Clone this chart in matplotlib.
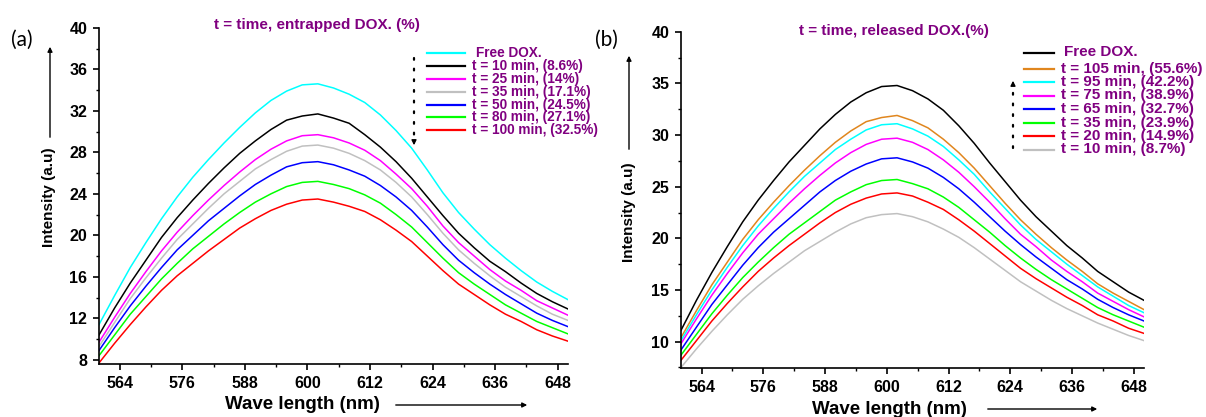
import numpy as np
import matplotlib
matplotlib.use("Agg")
import matplotlib.pyplot as plt
from matplotlib.lines import Line2D
from matplotlib.patches import FancyArrowPatch
from matplotlib.ticker import MultipleLocator

plt.rcParams['font.family'] = ['Liberation Sans', 'DejaVu Sans']
plt.rcParams['font.weight'] = 'bold'

# ---------------- data ----------------
wavelength = np.arange(560, 651, 3)  # nm sampling

# panel (a): entrapped DOX
a_free = [11.4, 14.2, 16.9, 19.3, 21.6, 23.7, 25.6, 27.3, 28.9, 30.4, 31.8, 33.0, 33.9, 34.5, 34.6,
          34.2, 33.6, 32.8, 31.6, 30.1, 28.4, 26.3, 24.1, 22.2, 20.6, 19.1, 17.8, 16.6, 15.5, 14.6, 13.8]
a_t10 = [10.4, 13.0, 15.4, 17.6, 19.8, 21.7, 23.4, 25.0, 26.5, 27.9, 29.1, 30.2, 31.1, 31.5, 31.7,
         31.3, 30.8, 29.7, 28.5, 27.1, 25.5, 23.7, 21.9, 20.2, 18.8, 17.5, 16.5, 15.4, 14.4, 13.6, 12.9]
a_t25 = [9.7, 12.1, 14.4, 16.5, 18.5, 20.3, 21.9, 23.4, 24.8, 26.1, 27.3, 28.3, 29.1, 29.6, 29.7,
         29.4, 28.9, 28.2, 27.2, 25.9, 24.5, 22.8, 20.9, 19.3, 18.0, 16.7, 15.6, 14.7, 13.7, 13.0, 12.3]
a_t35 = [9.3, 11.6, 13.9, 15.9, 17.8, 19.6, 21.1, 22.6, 24.0, 25.2, 26.4, 27.3, 28.1, 28.6, 28.7,
         28.4, 27.9, 27.2, 26.3, 25.1, 23.7, 22.0, 20.2, 18.6, 17.3, 16.1, 15.0, 14.1, 13.2, 12.4, 11.8]
a_t50 = [8.9, 11.1, 13.2, 15.1, 16.9, 18.6, 20.0, 21.4, 22.6, 23.8, 24.9, 25.8, 26.6, 27.0, 27.1,
         26.8, 26.3, 25.7, 24.8, 23.7, 22.4, 20.8, 19.1, 17.6, 16.4, 15.3, 14.3, 13.4, 12.5, 11.8, 11.2]
a_t80 = [8.4, 10.4, 12.4, 14.1, 15.8, 17.3, 18.7, 19.9, 21.1, 22.2, 23.2, 24.0, 24.7, 25.1, 25.2,
         24.9, 24.5, 23.9, 23.1, 22.0, 20.8, 19.3, 17.8, 16.4, 15.3, 14.3, 13.3, 12.5, 11.7, 11.1, 10.5]
a_t100 = [7.7, 9.6, 11.4, 13.1, 14.7, 16.1, 17.3, 18.5, 19.6, 20.7, 21.6, 22.4, 23.0, 23.4, 23.5,
          23.2, 22.8, 22.3, 21.5, 20.5, 19.4, 18.0, 16.6, 15.3, 14.3, 13.3, 12.4, 11.7, 10.9, 10.3, 9.8]

a_series = [a_free, a_t10, a_t25, a_t35, a_t50, a_t80, a_t100]
a_labels = ["Free DOX.", "t = 10 min, (8.6%)", "t = 25 min, (14%)", "t = 35 min, (17.1%)",
            "t = 50 min, (24.5%)", "t = 80 min, (27.1%)", "t = 100 min, (32.5%)"]
a_colors = ["#00FFFF", "#000000", "#FF00FF", "#C0C0C0", "#0000FF", "#00FF00", "#FF0000"]

# panel (b): released DOX
b_free = [11.1, 14.0, 16.7, 19.2, 21.6, 23.7, 25.6, 27.4, 29.0, 30.6, 32.0, 33.2, 34.1, 34.7, 34.8,
          34.3, 33.5, 32.4, 30.9, 29.2, 27.3, 25.5, 23.7, 22.1, 20.7, 19.3, 18.1, 16.8, 15.8, 14.8, 14.0]
b_t105 = [10.4, 13.0, 15.5, 17.7, 19.9, 21.8, 23.5, 25.1, 26.6, 28.0, 29.3, 30.4, 31.3, 31.7, 31.9,
          31.4, 30.7, 29.6, 28.3, 26.8, 25.1, 23.4, 21.8, 20.4, 19.1, 17.9, 16.8, 15.6, 14.7, 13.9, 13.1]
b_t95 = [10.1, 12.6, 15.0, 17.2, 19.3, 21.2, 22.9, 24.5, 26.0, 27.3, 28.6, 29.6, 30.5, 31.0, 31.1,
         30.6, 29.9, 28.9, 27.6, 26.2, 24.5, 22.9, 21.3, 19.9, 18.7, 17.5, 16.4, 15.3, 14.4, 13.5, 12.8]
b_t75 = [9.8, 12.2, 14.5, 16.6, 18.6, 20.4, 21.9, 23.4, 24.8, 26.1, 27.3, 28.3, 29.1, 29.6, 29.7,
         29.3, 28.6, 27.6, 26.4, 25.0, 23.5, 21.9, 20.4, 19.2, 17.9, 16.8, 15.8, 14.7, 13.9, 13.1, 12.4]
b_t65 = [9.2, 11.4, 13.6, 15.5, 17.4, 19.1, 20.6, 21.9, 23.2, 24.5, 25.6, 26.5, 27.2, 27.7, 27.8,
         27.4, 26.8, 25.9, 24.8, 23.5, 22.1, 20.7, 19.4, 18.2, 17.1, 16.0, 15.1, 14.1, 13.3, 12.6, 12.0]
b_t35 = [8.7, 10.7, 12.7, 14.5, 16.2, 17.7, 19.1, 20.4, 21.5, 22.6, 23.7, 24.5, 25.2, 25.6, 25.7,
         25.3, 24.8, 24.0, 23.0, 21.8, 20.6, 19.3, 18.1, 17.0, 16.0, 15.1, 14.2, 13.3, 12.6, 12.0, 11.4]
b_t20 = [8.2, 10.1, 12.0, 13.7, 15.3, 16.8, 18.1, 19.3, 20.4, 21.5, 22.5, 23.3, 23.9, 24.3, 24.4,
         24.1, 23.5, 22.8, 21.8, 20.7, 19.5, 18.3, 17.1, 16.1, 15.2, 14.3, 13.5, 12.6, 12.0, 11.3, 10.8]
b_t10 = [7.5, 9.3, 11.0, 12.6, 14.1, 15.4, 16.6, 17.7, 18.8, 19.7, 20.6, 21.4, 22.0, 22.3, 22.4,
         22.1, 21.6, 20.9, 20.1, 19.1, 18.0, 16.9, 15.8, 14.9, 14.0, 13.2, 12.5, 11.8, 11.2, 10.6, 10.1]

b_series = [b_free, b_t105, b_t95, b_t75, b_t65, b_t35, b_t20, b_t10]
b_labels = ["Free DOX.", "t = 105 min, (55.6%)", "t = 95 min, (42.2%)", "t = 75 min, (38.9%)",
            "t = 65 min, (32.7%)", "t = 35 min, (23.9%)", "t = 20 min, (14.9%)", "t = 10 min, (8.7%)"]
b_colors = ["#000000", "#E0861E", "#00FFFF", "#FF00FF", "#0000FF", "#00FF00", "#FF0000", "#C0C0C0"]

x_ticks = [564, 576, 588, 600, 612, 624, 636, 648]

# ---------------- figure ----------------
W, H = 1206, 417
fig = plt.figure(figsize=(W / 100, H / 100), dpi=100)
PURPLE = "#800080"


def fx(x):
    return x / W


def fy(y):
    return 1 - y / H


def style_axes(ax, ymajor, yminor):
    for s in ["top", "right"]:
        ax.spines[s].set_visible(False)
    for s in ["left", "bottom"]:
        ax.spines[s].set_linewidth(1.2)
    ax.set_xlim(560, 650)
    ax.set_xticks(x_ticks)
    ax.xaxis.set_minor_locator(MultipleLocator(6))
    ax.yaxis.set_major_locator(MultipleLocator(ymajor))
    ax.yaxis.set_minor_locator(MultipleLocator(yminor))
    ax.tick_params(which="major", direction="out", length=4.5, width=1.2, labelsize=11.5, pad=4)
    ax.tick_params(which="minor", direction="out", length=2.5, width=1.0)
    for lab in ax.get_xticklabels() + ax.get_yticklabels():
        lab.set_fontweight("bold")


axA = fig.add_axes([fx(99), fy(364), (568 - 99) / W, (364 - 27.8) / H])
axB = fig.add_axes([fx(681), fy(368.3), (1144 - 681) / W, (368.3 - 31.8) / H])

for vals, c in zip(a_series, a_colors):
    axA.plot(wavelength, vals, color=c, lw=1.1)
for vals, c in zip(b_series, b_colors):
    axB.plot(wavelength, vals, color=c, lw=1.1)

axA.set_ylim(7.6, 40)
axB.set_ylim(7.42, 40)
style_axes(axA, 4, 2)
style_axes(axB, 5, 2.5)

# axis labels
for ax, xl, yl in [(axA, (0.433, -0.12), (-0.107, 0.497)), (axB, (0.451, -0.122), (-0.112, 0.464))]:
    ax.set_xlabel("Wave length (nm)", fontsize=13.5, fontweight="bold")
    ax.xaxis.set_label_coords(*xl)
    ax.xaxis.label.set_va("center")
    ax.set_ylabel("Intensity (a.u)", fontsize=11, fontweight="bold")
    ax.yaxis.set_label_coords(*yl)
    ax.yaxis.label.set_va("center")

arrow_kw = dict(arrowstyle="-|>", color="black", lw=1.0, mutation_scale=7)


def fig_arrow(x0, y0, x1, y1):
    fig.add_artist(FancyArrowPatch((fx(x0), fy(y0)), (fx(x1), fy(y1)),
                                   transform=fig.transFigure, **arrow_kw))


fig_arrow(50, 140, 50, 44)
fig_arrow(629, 152, 629, 53)
fig_arrow(393, 405, 530, 405)
fig_arrow(985, 409, 1100, 409)

# panel tags and titles
fig.text(fx(22), fy(40), "(a)", fontsize=15, fontweight="normal", family="Lato", ha="center", va="center")
fig.text(fx(606), fy(40), "(b)", fontsize=15, fontweight="normal", family="Lato", ha="center", va="center")
fig.text(fx(317), fy(25), "t = time, entrapped DOX. (%)", color=PURPLE, fontsize=11,
         fontweight="bold", ha="center", va="center")
fig.text(fx(894), fy(31), "t = time, released DOX.(%)", color=PURPLE, fontsize=11,
         fontweight="bold", ha="center", va="center")

# manual legends
for i, (lab, c) in enumerate(zip(a_labels, a_colors)):
    y = 53.3 + 12.8 * i
    fig.add_artist(Line2D([fx(427), fx(465)], [fy(y), fy(y)], color=c, lw=1.6, transform=fig.transFigure))
    fig.text(fx(476 if i == 0 else 472), fy(y), lab, color=PURPLE, fontsize=9.8, fontweight="bold",
             ha="left", va="center")

for i, (lab, c) in enumerate(zip(b_labels, b_colors)):
    y = 52.5 if i == 0 else 68.5 + 13.5 * (i - 1)
    fig.add_artist(Line2D([fx(1024), fx(1054)], [fy(y), fy(y)], color=c, lw=1.6, transform=fig.transFigure))
    fig.text(fx(1064 if i == 0 else 1061), fy(y), lab, color=PURPLE, fontsize=11, fontweight="bold",
             ha="left", va="center")

# dotted trend arrows
fig.add_artist(Line2D([fx(414), fx(414)], [fy(58), fy(140)], color="black", lw=1.6,
                      linestyle=(0, (0.8, 4)), dash_capstyle="round", transform=fig.transFigure))
fig_arrow(414, 139, 414, 148)
fig.add_artist(Line2D([fx(1013), fx(1013)], [fy(148), fy(86)], color="black", lw=1.6,
                      linestyle=(0, (0.8, 4)), dash_capstyle="round", transform=fig.transFigure))
fig_arrow(1013, 87, 1013, 78)

fig.savefig("out.png", dpi=100)
